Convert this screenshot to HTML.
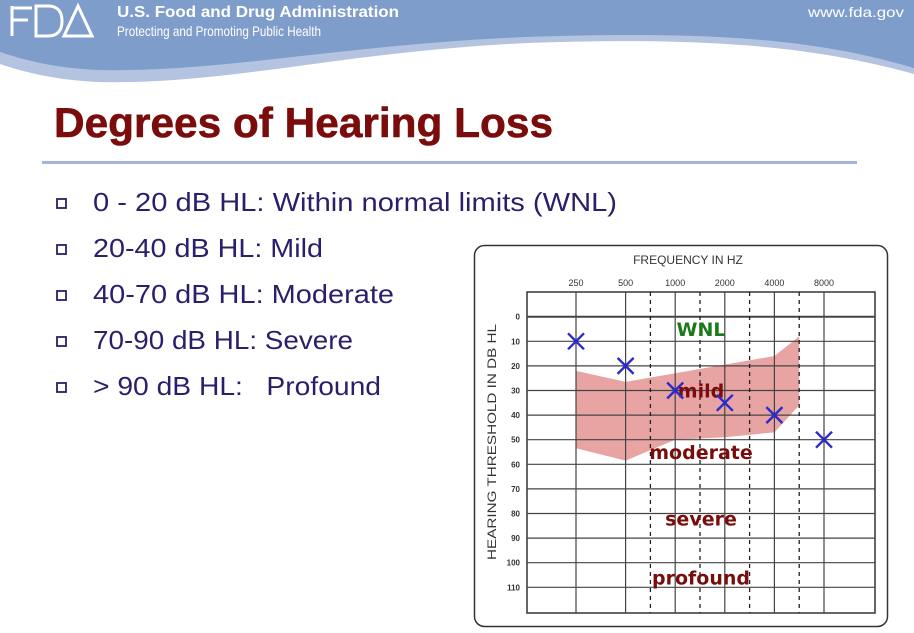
<!DOCTYPE html>
<html><head><meta charset="utf-8"><style>
html,body{margin:0;padding:0;background:#fff;width:914px;height:633px;overflow:hidden}
svg{display:block}
</style></head><body>
<svg id="slide" width="914" height="633" viewBox="0 0 914 633" xmlns="http://www.w3.org/2000/svg">
  <g>
    <path d="M0,0 H914 V74 C820,48 720,38 560,42 C380,46 250,80 130,82 C70,84 30,74 0,64 Z" fill="#b3c3e0"/>
    <path d="M0,0 H914 V68 C820,40 720,32 560,36 C380,40 250,68 130,70 C70,72 30,62 0,52 Z" fill="#7f9dcb"/>
    <g fill="none" stroke="#fff" stroke-width="3">
      <path d="M12,6 V36 M12,8 H32 M12,20 H28"/>
      <path d="M36,6 V36 H48 C58,36 62,30 62,21 C62,12 58,6 48,6 Z"/>
      <path d="M64,36 L78,6 L92,36 Z"/>
    </g>
    <text x="117" y="17" font-family="Liberation Sans, sans-serif" font-weight="bold" font-size="16" fill="#fff" textLength="282" lengthAdjust="spacingAndGlyphs">U.S. Food and Drug Administration</text>
    <text x="117" y="36" font-family="Liberation Sans, sans-serif" font-size="14" fill="#fff" textLength="204" lengthAdjust="spacingAndGlyphs">Protecting and Promoting Public Health</text>
    <text x="808" y="17" font-family="Liberation Sans, sans-serif" font-size="14" fill="#fff" textLength="96" lengthAdjust="spacingAndGlyphs">www.fda.gov</text>
  </g>
  <text x="54" y="137" font-family="Liberation Sans, sans-serif" font-weight="bold" font-size="42" fill="#7a0c0c" stroke="#7a0c0c" stroke-width="0.6" textLength="499" lengthAdjust="spacingAndGlyphs">Degrees of Hearing Loss</text>
  <rect x="42" y="161" width="815" height="3" fill="#a6b3dc"/>
  <g id="bullets" font-family="Liberation Sans, sans-serif" font-size="26" fill="#2a1f6a"></g>
  <g id="chart"></g>
</svg>
<script>
const bulletTexts = ["0 - 20 dB HL: Within normal limits (WNL)","20-40 dB HL: Mild","40-70 dB HL: Moderate","70-90 dB HL: Severe","> 90 dB HL:\u00a0\u00a0\u00a0Profound"];
const bulletWidths = [524, 230, 301, 260, 288];

const freqLabels = ["250","500","1000","2000","4000","8000"];
const dbTicks = [0,10,20,30,40,50,60,70,80,90,100,110];
const dashedIdx = [1.5,2.5,3.5,4.5];
const measuredDb = [10,20,30,35,40,50];
const bandIdx = [0,1,4,4.5];
const bandUpper = [22,26.5,16,8];
const bandLowerIdx = [4.5,4,3,2,1,0];
const bandLower = [36,47,49,50,58.5,53.5];
const zoneLabels = ["WNL","mild","moderate","severe","profound"];
const zoneDb = [5,30,55,82,106];
const zoneColors = ["#1a7a1a","#7a0c0c","#7a0c0c","#7a0c0c","#7a0c0c"];

const NS="http://www.w3.org/2000/svg";
function mk(tag, attrs, parent){const e=document.createElementNS(NS,tag);for(const k in attrs)e.setAttribute(k,attrs[k]);parent.appendChild(e);return e;}

const bl=document.getElementById('bullets');
bulletTexts.forEach((t,i)=>{
  const y=211+i*46;
  const b=mk('rect',{x:57,y:y-12,width:9,height:9,fill:'none',stroke:'#2a1f6a','stroke-width':1.8},bl);
  
  
  const tx=mk('text',{x:93,y:y,textLength:bulletWidths[i],lengthAdjust:'spacingAndGlyphs'},bl);
  tx.textContent=t;
  
  
});

const ch=document.getElementById('chart');
const X0=576, DX=49.6, Y0=316.7, DY=2.46;
const xs=i=>X0+i*DX, ys=d=>Y0+d*DY;
const L=527,R=875,T=292,B=613;

const frame=mk('rect',{x:474.5,y:245.5,width:413,height:381,rx:10,fill:'#fff',stroke:'#333','stroke-width':1.5},ch);



const band=mk('polygon',{points:bandIdx.map((v,i)=>xs(v)+','+ys(bandUpper[i])).concat(bandLowerIdx.map((v,i)=>xs(v)+','+ys(bandLower[i]))).join(' '),fill:'#e8a3a3'},ch);



const plot=mk('rect',{x:L,y:T,width:R-L,height:B-T,fill:'none',stroke:'#333','stroke-width':1.5},ch);



dbTicks.forEach(d=>{
  const ln=mk('line',{x1:L,x2:R,y1:ys(d),y2:ys(d),stroke:'#444','stroke-width':d===0?2:1.2},ch);
  
  
  const tl=mk('text',{x:520,y:ys(d)+3,'text-anchor':'end','font-family':'Liberation Sans, sans-serif','font-size':8,'font-weight':'bold',fill:'#333'},ch);
  tl.textContent=d;
  
  
});
freqLabels.forEach((f,i)=>{
  const ln=mk('line',{x1:xs(i),x2:xs(i),y1:T,y2:B,stroke:'#444','stroke-width':1.2},ch);
  
  
  const tl=mk('text',{x:xs(i),y:286,'text-anchor':'middle','font-family':'Liberation Sans, sans-serif','font-size':9,fill:'#333'},ch);
  tl.textContent=f;
  
  
});
dashedIdx.forEach(v=>{
  const ln=mk('line',{x1:xs(v),x2:xs(v),y1:T,y2:B,stroke:'#222','stroke-width':1.3,'stroke-dasharray':'4,4'},ch);
  
  
});

const xt=mk('text',{x:688,y:264,'text-anchor':'middle','font-family':'Liberation Sans, sans-serif','font-size':12,fill:'#333'},ch);
xt.textContent='FREQUENCY IN HZ';


const yt=mk('text',{x:0,y:0,transform:'translate(496,442) rotate(-90)','text-anchor':'middle','font-family':'Liberation Sans, sans-serif','font-size':12,fill:'#333',textLength:236,lengthAdjust:'spacingAndGlyphs'},ch);
yt.textContent='HEARING THRESHOLD IN DB HL';



zoneLabels.forEach((z,i)=>{
  const t=mk('text',{x:701,y:ys(zoneDb[i])+7,'text-anchor':'middle','font-family':'DejaVu Sans, sans-serif','font-size':19,'font-weight':'bold',fill:zoneColors[i]},ch);
  t.textContent=z;
  
  
});

measuredDb.forEach((d,i)=>{
  const cx=xs(i), cy=ys(d), s=8;
  const p=mk('path',{d:`M${cx-s},${cy-s}L${cx+s},${cy+s}M${cx+s},${cy-s}L${cx-s},${cy+s}`,stroke:'#2a2ad0','stroke-width':2.4,fill:'none'},ch);
  
  
});
</script>
</body></html>
